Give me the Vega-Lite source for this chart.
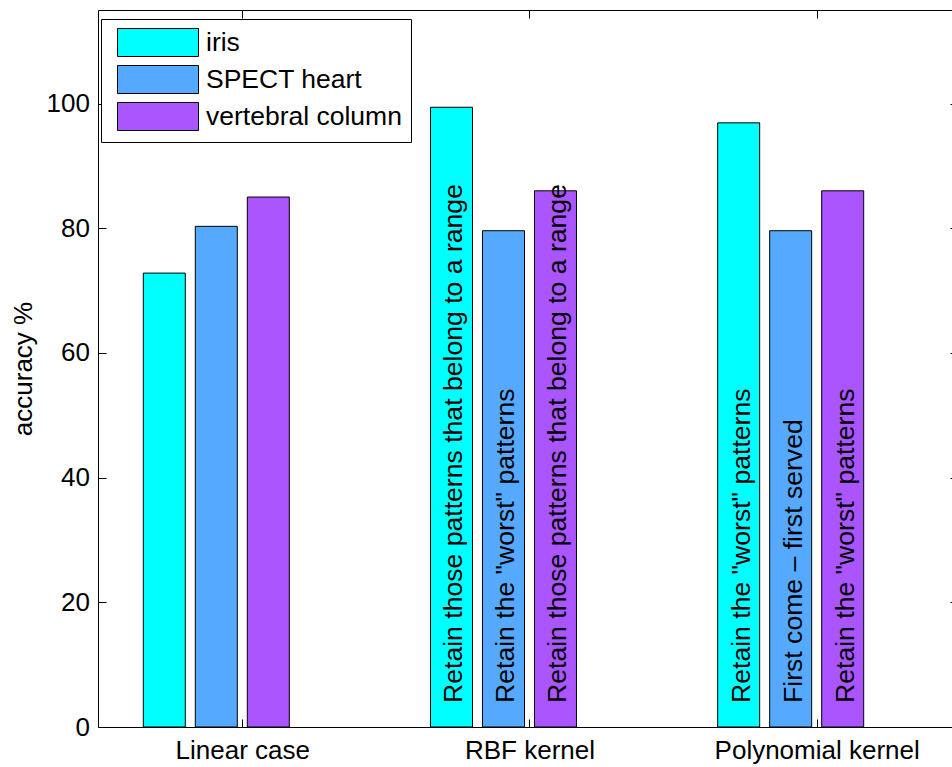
{
  "$schema": "https://vega.github.io/schema/vega-lite/v6.json",
  "width": 854,
  "height": 717,
  "autosize": {"type": "none"},
  "padding": {"left": 98, "top": 10, "right": 0, "bottom": 40},
  "background": "white",
  "config": {
    "view": {"stroke": null},
    "font": "Liberation Sans",
    "axis": {
      "labelFont": "Liberation Sans", "labelFontSize": 26, "labelColor": "black", "labelLimit": 400, "labelOverlap": false,
      "titleFont": "Liberation Sans", "titleFontSize": 26, "titleColor": "black", "titleFontWeight": "normal",
      "domainColor": "black", "domainWidth": 1, "tickColor": "black", "tickWidth": 1, "grid": false
    },
    "legend": {
      "orient": "none", "legendX": 3, "legendY": 9,
      "symbolType": "M-0.5,-1H5.2857V1H-0.5Z", "symbolSize": 784,
      "symbolStrokeColor": "black", "symbolStrokeWidth": 1, "symbolOpacity": 1,
      "labelFont": "Liberation Sans", "labelFontSize": 26.5, "labelColor": "black",
      "labelOffset": 67, "rowPadding": 4, "padding": 9,
      "strokeColor": "black", "strokeWidth": 1, "fillColor": "white", "labelLimit": 0
    }
  },
  "data": {"values": [
    {"kernel": "Linear case", "dataset": "iris", "accuracy": 72.8, "label": ""},
    {"kernel": "Linear case", "dataset": "SPECT heart", "accuracy": 80.3, "label": ""},
    {"kernel": "Linear case", "dataset": "vertebral column", "accuracy": 85.0, "label": ""},
    {"kernel": "RBF kernel", "dataset": "iris", "accuracy": 99.4, "label": "Retain those patterns that belong to a range"},
    {"kernel": "RBF kernel", "dataset": "SPECT heart", "accuracy": 79.6, "label": "Retain the \"worst\" patterns"},
    {"kernel": "RBF kernel", "dataset": "vertebral column", "accuracy": 86.0, "label": "Retain those patterns that belong to a range"},
    {"kernel": "Polynomial kernel", "dataset": "iris", "accuracy": 96.9, "label": "Retain the \"worst\" patterns"},
    {"kernel": "Polynomial kernel", "dataset": "SPECT heart", "accuracy": 79.6, "label": "First come – first served"},
    {"kernel": "Polynomial kernel", "dataset": "vertebral column", "accuracy": 86.0, "label": "Retain the \"worst\" patterns"}
  ]},
  "layer": [
    {
      "mark": {"type": "bar", "stroke": "black", "strokeWidth": 1},
      "encoding": {
        "x": {"field": "kernel", "type": "nominal", "sort": ["Linear case", "RBF kernel", "Polynomial kernel"],
          "scale": {"paddingInner": 0.4916, "paddingOuter": 0.2326, "align": 0.339},
          "axis": {"orient": "bottom", "title": null, "labelAngle": 0, "tickSize": -8, "tickOffset": 26, "labelPadding": 18.8, "labelLimit": 400}},
        "xOffset": {"field": "dataset", "type": "nominal", "sort": ["iris", "SPECT heart", "vertebral column"],
          "scale": {"paddingInner": 0.1923, "paddingOuter": 0}},
        "y": {"field": "accuracy", "type": "quantitative", "scale": {"domain": [0, 115], "nice": false},
          "axis": {"orient": "left", "values": [0, 20, 40, 60, 80, 100], "tickSize": -8, "labelPadding": 16.5,
            "title": "accuracy %", "titleX": -67, "titleY": 358.5, "titleAngle": 270, "titleAlign": "center", "titleBaseline": "alphabetic"}},
        "color": {"field": "dataset", "type": "nominal", "sort": ["iris", "SPECT heart", "vertebral column"],
          "scale": {"domain": ["iris", "SPECT heart", "vertebral column"], "range": ["#00FFFF", "#55AAFF", "#AA55FF"]},
          "legend": {"title": null}}
      }
    },
    {
      "mark": {"type": "text", "angle": 270, "align": "left", "baseline": "middle", "dx": 24, "dy": 3, "fontSize": 26.6, "font": "Liberation Sans", "color": "black"},
      "encoding": {
        "x": {"field": "kernel", "type": "nominal", "sort": ["Linear case", "RBF kernel", "Polynomial kernel"],
          "axis": {"orient": "top", "labels": false, "title": null, "tickSize": -8, "tickOffset": 26}},
        "xOffset": {"field": "dataset", "type": "nominal", "sort": ["iris", "SPECT heart", "vertebral column"]},
        "y": {"datum": 0, "type": "quantitative",
          "axis": {"orient": "right", "labels": false, "title": null, "domain": false, "tickSize": -2, "values": [0, 20, 40, 60, 80, 100]}},
        "text": {"field": "label"}
      }
    }
  ],
  "resolve": {"axis": {"x": "independent", "y": "independent"}}
}
